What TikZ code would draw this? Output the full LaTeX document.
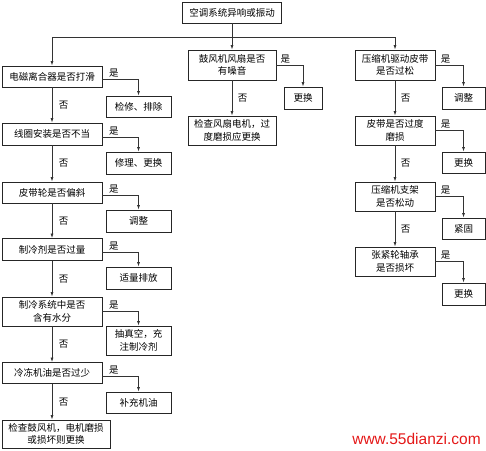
\documentclass[tikz,border=0pt]{standalone}
\usepackage{fontspec}
\setmainfont{Noto Sans CJK SC}
\newfontfamily\wmfont{Liberation Sans}
\usetikzlibrary{arrows.meta}
\begin{document}
\begin{tikzpicture}[x=1pt,y=-1pt,
  box/.style={draw=black!85, line width=0.9pt, inner sep=0pt, align=center,
    font=\fontsize{9.5pt}{12.5pt}\selectfont},
  conn/.style={draw=black!80, line width=0.7pt, -{Latex[length=4.5pt,width=3pt]}},
  plain/.style={draw=black!80, line width=0.7pt},
  lab/.style={font=\fontsize{9.5pt}{11pt}\selectfont, inner sep=1.5pt}]
\useasboundingbox (0,0) rectangle (486,450);
% top
\node[box, minimum width=99pt, minimum height=21pt] (top) at (232,12.5) {空调系统异响或振动};
\coordinate (J) at (232,37);
% left column
\node[box, minimum width=100pt, minimum height=21pt] (L1) at (52,76.5) {电磁离合器是否打滑};
\node[box, minimum width=100pt, minimum height=22pt] (L2) at (52,134) {线圈安装是否不当};
\node[box, minimum width=100pt, minimum height=21pt] (L3) at (52,192.5) {皮带轮是否偏斜};
\node[box, minimum width=100pt, minimum height=22pt] (L4) at (52,249.5) {制冷剂是否过量};
\node[box, minimum width=100pt, minimum height=29pt] (L5) at (52,311.5) {制冷系统中是否\\含有水分};
\node[box, minimum width=100pt, minimum height=21pt] (L6) at (52,373) {冷冻机油是否过少};
\node[box, minimum width=108pt, minimum height=28pt] (L7) at (56,434) {检查鼓风机，电机磨损\\或损坏则更换};
% left yes boxes
\node[box, minimum width=65pt, minimum height=21pt] (R1) at (138.5,106.5) {检修、排除};
\node[box, minimum width=65pt, minimum height=22pt] (R2) at (138.5,163) {修理、更换};
\node[box, minimum width=65pt, minimum height=22pt] (R3) at (138.5,221) {调整};
\node[box, minimum width=65pt, minimum height=22pt] (R4) at (138.5,278) {适量排放};
\node[box, minimum width=65pt, minimum height=29pt] (R5) at (138.5,340.5) {抽真空，充\\注制冷剂};
\node[box, minimum width=65pt, minimum height=21pt] (R6) at (138.5,402.5) {补充机油};
% middle column
\node[box, minimum width=88pt, minimum height=30pt] (M1) at (232,65) {鼓风机风扇是否\\有噪音};
\node[box, minimum width=88pt, minimum height=29pt] (M2) at (232,130.5) {检查风扇电机，过\\度磨损应更换};
\node[box, minimum width=38pt, minimum height=22pt] (MR1) at (303,98) {更换};
% right column
\node[box, minimum width=80pt, minimum height=30pt] (C1) at (395,65) {压缩机驱动皮带\\是否过松};
\node[box, minimum width=80pt, minimum height=29pt] (C2) at (395,130.5) {皮带是否过度\\磨损};
\node[box, minimum width=80pt, minimum height=29pt] (C3) at (395,196.5) {压缩机支架\\是否松动};
\node[box, minimum width=80pt, minimum height=29pt] (C4) at (395,261.5) {张紧轮轴承\\是否损坏};
\node[box, minimum width=43pt, minimum height=22pt] (CR1) at (463.5,98) {调整};
\node[box, minimum width=43pt, minimum height=21pt] (CR2) at (463.5,162.5) {更换};
\node[box, minimum width=43pt, minimum height=21pt] (CR3) at (463.5,228.5) {紧固};
\node[box, minimum width=43pt, minimum height=22pt] (CR4) at (463.5,294) {更换};
% top connectors
\draw[plain] (top.south) -- (J);
\draw[conn] (J) -| (L1.north);
\draw[conn] (J) -| (C1.north);
\draw[conn] (J) -- (M1.north);
% left column no-arrows
\draw[conn] (L1) -- node[lab, right=5pt] {否} (L2);
\draw[conn] (L2) -- node[lab, right=5pt] {否} (L3);
\draw[conn] (L3) -- node[lab, right=5pt] {否} (L4);
\draw[conn] (L4) -- node[lab, right=5pt] {否} (L5);
\draw[conn] (L5) -- node[lab, right=5pt] {否} (L6);
\draw[conn] (L6.south) -- node[lab, right=5pt] {否} (L7.north -| L6.south);
% left yes branches
\draw[conn] ([yshift=-3pt]L1.east) -| node[lab, pos=0.16, above] {是} (R1.north);
\draw[conn] ([yshift=-3pt]L2.east) -| node[lab, pos=0.16, above] {是} (R2.north);
\draw[conn] ([yshift=-3pt]L3.east) -| node[lab, pos=0.16, above] {是} (R3.north);
\draw[conn] ([yshift=-3pt]L4.east) -| node[lab, pos=0.16, above] {是} (R4.north);
\draw[conn] (L5.east) -| node[lab, pos=0.16, above] {是} (R5.north);
\draw[conn] ([yshift=-3pt]L6.east) -| node[lab, pos=0.16, above] {是} (R6.north);
% middle
\draw[conn] (M1) -- node[lab, right=4pt] {否} (M2);
\draw[conn] (M1.east) -| node[lab, pos=0.17, above] {是} (MR1.north);
% right
\draw[conn] (C1) -- node[lab, right=4pt] {否} (C2);
\draw[conn] (C2) -- node[lab, right=4pt] {否} (C3);
\draw[conn] (C3) -- node[lab, right=4pt] {否} (C4);
\draw[conn] (C1.east) -| node[lab, pos=0.18, above] {是} (CR1.north);
\draw[conn] (C2.east) -| node[lab, pos=0.18, above] {是} (CR2.north);
\draw[conn] (C3.east) -| node[lab, pos=0.18, above] {是} (CR3.north);
\draw[conn] (C4.east) -| node[lab, pos=0.18, above] {是} (CR4.north);
% watermark
\node[inner sep=0pt, text={rgb,255:red,228;green,24;blue,24}, font=\wmfont\fontsize{15.5pt}{16pt}\selectfont] (wm) at (416.5,439) {www.55dianzi.com};
\end{tikzpicture}
\end{document}
